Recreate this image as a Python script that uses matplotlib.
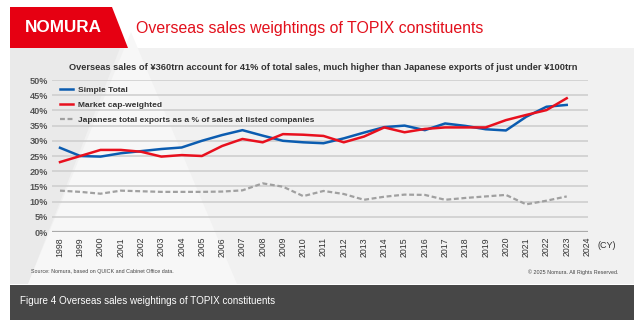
import matplotlib
matplotlib.use("Agg")
import matplotlib.pyplot as plt
from matplotlib.patches import Rectangle, Polygon
import numpy as np

plt.rcParams['font.family'] = ['Liberation Sans', 'DejaVu Sans']

years = list(range(1998, 2024))
simple_total = [27.7, 25.0, 24.8, 25.9, 26.6, 27.3, 27.8, 30.0, 31.9, 33.5,
                31.7, 30.0, 29.5, 29.2, 30.8, 32.7, 34.5, 35.0, 33.5, 35.7,
                34.9, 33.8, 33.4, 37.9, 41.2, 41.8]
market_cap = [23.0, 25.0, 27.0, 27.0, 26.4, 24.8, 25.3, 25.0, 28.3, 30.6,
              29.5, 32.2, 32.0, 31.6, 29.5, 31.4, 34.4, 32.8, 33.9, 34.4,
              34.4, 34.4, 36.8, 38.5, 40.1, 44.0]
exports = [13.6, 13.2, 12.6, 13.6, 13.4, 13.2, 13.2, 13.2, 13.3, 13.7,
           16.0, 14.9, 11.8, 13.5, 12.5, 10.6, 11.6, 12.3, 12.2, 10.6,
           11.2, 11.7, 12.2, 9.1, 10.3, 11.7]
tick_years = list(range(1998, 2025))
y_ticks = list(range(0, 55, 5))

title = "Overseas sales weightings of TOPIX constituents"
subtitle = ("Overseas sales of \u00a5360trn account for 41% of total sales, "
            "much higher than Japanese exports of just under \u00a5100trn")
labels = ["Simple Total", "Market cap-weighted",
          "Japanese total exports as a % of sales at listed companies"]
source = "Source: Nomura, based on QUICK and Cabinet Office data."
copyright_txt = "\u00a9 2025 Nomura. All Rights Reserved."
caption = "Figure 4 Overseas sales weightings of TOPIX constituents"

W, H = 640, 324
fig = plt.figure(figsize=(6.4, 3.24), dpi=100)
fig.patch.set_facecolor('white')

bg = fig.add_axes([0, 0, 1, 1])
bg.set_xlim(0, W)
bg.set_ylim(H, 0)
bg.axis('off')

# gray panel
bg.add_patch(Rectangle((10, 48), 624, 236, facecolor='#f1f1f1', edgecolor='none'))
# left darker strip
bg.add_patch(Polygon([(10, 48), (120, 48), (28, 284), (10, 284)], closed=True,
                     facecolor='#eaeaea', edgecolor='none'))
# lighter triangle
bg.add_patch(Polygon([(131, 32), (28, 284), (237, 284)], closed=True,
                     facecolor='#f7f7f7', edgecolor='none'))
# dark caption band
bg.add_patch(Rectangle((10, 285), 624, 35, facecolor='#474747', edgecolor='none'))
# red logo
bg.add_patch(Polygon([(10, 7), (112, 7), (128, 48), (10, 48)], closed=True,
                     facecolor='#e60012', edgecolor='none'))
bg.text(63, 28, "NOMURA", color='white', fontsize=12.3, fontweight='bold',
        ha='center', va='center')
bg.text(136, 28, title, color='#e2101c', fontsize=11.4, ha='left', va='center')
bg.text(323, 67, subtitle, color='#333333', fontsize=6.7, fontweight='bold',
        ha='center', va='center')
bg.text(31, 272, source, color='#444444', fontsize=3.9, ha='left', va='center')
bg.text(618, 272, copyright_txt, color='#444444', fontsize=3.9, ha='right', va='center')
bg.text(20, 301, caption, color='white', fontsize=7.1, ha='left', va='center')
bg.text(598, 245, "(CY)", color='#333333', fontsize=6.5, ha='left', va='center')

ax = fig.add_axes([52 / W, (H - 232) / H, (588 - 52) / W, (232 - 80) / H])
ax.set_facecolor('none')
ax.set_xlim(1997.605, 2024.05)
ax.set_ylim(0, 50)
for s in ax.spines.values():
    s.set_visible(False)

for v in y_ticks:
    if v == 0:
        ax.axhline(v, color='#aaaaaa', lw=1.6, zorder=1)
    else:
        ax.axhline(v, color='#cccccc', lw=1.1, zorder=1)

ax.plot(years, simple_total, color='#0b5cb0', lw=1.8, label=labels[0], zorder=3)
ax.plot(years, market_cap, color='#e8101e', lw=1.8, label=labels[1], zorder=4)
ax.plot(years, exports, color='#a0a0a0', lw=1.6, dashes=(2.2, 1.2), label=labels[2], zorder=2)

ax.set_yticks(y_ticks)
ax.set_yticklabels([f"{v}%" for v in y_ticks], fontsize=6.6, fontweight='bold', color='#555555')
ax.set_xticks(tick_years)
ax.set_xticklabels([str(y) for y in tick_years], rotation=90, fontsize=6.3, color='#333333')
ax.tick_params(axis='both', length=0)
ax.tick_params(axis='y', pad=2.9)
ax.tick_params(axis='x', pad=3.6)

leg = ax.legend(loc='upper left', bbox_to_anchor=(0.015, 0.962), frameon=False,
                borderaxespad=0, borderpad=0, handlelength=1.6, handletextpad=0.5,
                labelspacing=0.9, prop={'size': 6.0, 'weight': 'bold'})
for t in leg.get_texts():
    t.set_color('#333333')

fig.savefig("out.png", dpi=100, facecolor='white')
